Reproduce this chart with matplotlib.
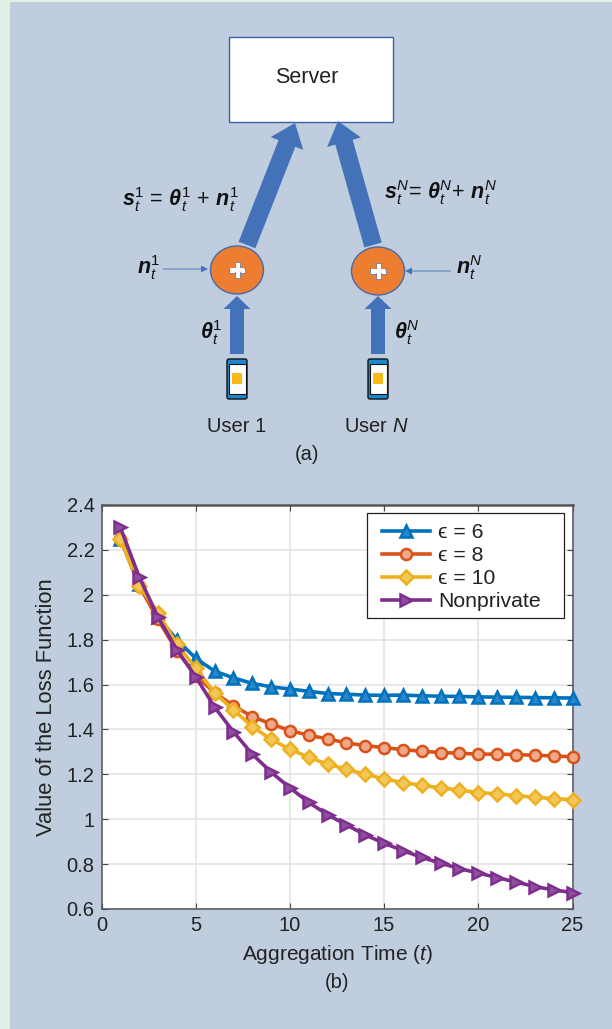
import matplotlib
matplotlib.use('Agg')
import matplotlib.pyplot as plt
from matplotlib.patches import Rectangle, Ellipse, FancyArrow, FancyBboxPatch

plt.rcParams['font.family'] = ['Liberation Sans', 'DejaVu Sans']
plt.rcParams['mathtext.fontset'] = 'custom'
plt.rcParams['mathtext.rm'] = 'Liberation Sans'
plt.rcParams['mathtext.it'] = 'Liberation Sans:italic'
plt.rcParams['mathtext.bf'] = 'Liberation Sans:bold'
plt.rcParams['mathtext.bfit'] = 'Liberation Sans:italic:bold'

# values
t = list(range(1, 26))
eps6 = [2.25, 2.05, 1.90, 1.80, 1.717, 1.66, 1.63, 1.605, 1.59, 1.58, 1.57, 1.56, 1.557,
        1.553, 1.552, 1.553, 1.55, 1.548, 1.547, 1.545, 1.544, 1.543, 1.542, 1.541, 1.54]
eps8 = [2.25, 2.04, 1.89, 1.75, 1.64, 1.564, 1.506, 1.457, 1.425, 1.395, 1.374, 1.358, 1.34,
        1.328, 1.319, 1.31, 1.303, 1.297, 1.294, 1.29, 1.29, 1.288, 1.285, 1.282, 1.278]
eps10 = [2.25, 2.04, 1.92, 1.78, 1.673, 1.564, 1.487, 1.413, 1.356, 1.312, 1.276, 1.245, 1.223,
         1.20, 1.18, 1.163, 1.151, 1.14, 1.13, 1.119, 1.113, 1.105, 1.098, 1.092, 1.087]
nonprivate = [2.30, 2.08, 1.90, 1.755, 1.635, 1.50, 1.39, 1.29, 1.21, 1.14, 1.075, 1.02, 0.975,
              0.93, 0.893, 0.86, 0.83, 0.804, 0.78, 0.76, 0.74, 0.72, 0.70, 0.685, 0.673]
labels = ['\u03f5 = 6', '\u03f5 = 8', '\u03f5 = 10', 'Nonprivate']
x_ticks = [0, 5, 10, 15, 20, 25]
y_ticks = [0.6, 0.8, 1, 1.2, 1.4, 1.6, 1.8, 2, 2.2, 2.4]
y_tick_labels = ['0.6', '0.8', '1', '1.2', '1.4', '1.6', '1.8', '2', '2.2', '2.4']

W, H = 612, 1029
PANEL = '#bfcddf'
BLUE = '#4472b8'
ORANGE = '#ed7d31'
INK = '#222222'

fig = plt.figure(figsize=(W / 100, H / 100), dpi=100, facecolor='#e2f1e6')

# overlay in pixel coordinates for the panel and the diagram
bg = fig.add_axes([0, 0, 1, 1], zorder=0)
bg.set_xlim(0, W)
bg.set_ylim(H, 0)
bg.axis('off')
bg.add_patch(Rectangle((10, 1.5), W - 10, H - 1.5, fc=PANEL, ec='none'))

bg.add_patch(Rectangle((228.5, 36.5), 164, 85.5, fc='white', ec='#3f5f9f', lw=1))
bg.text(307, 77.5, 'Server', ha='center', va='center', fontsize=15.5, color=INK)


def arrow(x0, y0, x1, y1, shaft, head, head_len):
    bg.add_patch(FancyArrow(x0, y0, x1 - x0, y1 - y0, width=shaft, head_width=head,
                            head_length=head_len, length_includes_head=True,
                            fc=BLUE, ec='none'))


arrow(247, 245, 295, 123, 18, 35, 22)
arrow(373, 245, 338, 121, 18, 35, 22)
arrow(237, 354, 237, 296, 14, 27, 13)
arrow(378, 354, 378, 296, 14, 27, 13)
arrow(163, 269, 208, 269, 0.9, 7, 7)
arrow(451, 271, 405, 271, 0.9, 7, 7)

for cx, cy in [(237, 270), (378, 271)]:
    bg.add_patch(Ellipse((cx, cy), 53, 48, fc=ORANGE, ec='#4a6aa8', lw=1))
    bg.add_patch(Rectangle((cx - 8, cy - 2.5), 16, 5, fc='white', ec='#5a6fa0', lw=0.5))
    bg.add_patch(Rectangle((cx - 2.5, cy - 8), 5, 16, fc='white', ec='#5a6fa0', lw=0.5))
    bg.add_patch(Rectangle((cx - 7, cy - 1.8), 14, 3.6, fc='white', ec='none'))

for px in [227, 368]:
    bg.add_patch(FancyBboxPatch((px, 359), 20, 40, boxstyle='round,pad=0,rounding_size=2',
                                fc='#1a8ad0', ec='#111111', lw=1))
    bg.add_patch(Rectangle((px + 1.5, 364), 17, 30, fc='white', ec='#111111', lw=0.8))
    bg.add_patch(FancyBboxPatch((px + 5, 373), 10, 11, boxstyle='round,pad=0,rounding_size=1',
                                fc='#f9b91a', ec='none'))

MATH = dict(ha='center', va='center', fontsize=15.5, color='#111111')
bg.text(180, 200, r'$\mathbfit{s}_t^1\,=\,\mathbfit{\theta}_t^1\,+\,\mathbfit{n}_t^1$', **MATH)
bg.text(440, 193, r'$\mathbfit{s}_t^N\!=\,\mathbfit{\theta}_t^N\!+\,\mathbfit{n}_t^N$', **MATH)
bg.text(148, 268, r'$\mathbfit{n}_t^1$', **MATH)
bg.text(469, 268, r'$\mathbfit{n}_t^N$', **MATH)
bg.text(211, 333, r'$\mathbfit{\theta}_t^1$', **MATH)
bg.text(407, 333, r'$\mathbfit{\theta}_t^N$', **MATH)

bg.text(237, 427, 'User 1', ha='center', va='center', fontsize=14.5, color=INK)
bg.text(376, 427, 'User $N$', ha='center', va='center', fontsize=14.5, color=INK)
bg.text(307, 454, '(a)', ha='center', va='center', fontsize=14.5, color=INK)
bg.text(337, 983, '(b)', ha='center', va='center', fontsize=14.5, color=INK)

# line chart
ax = fig.add_axes([101.5 / W, 1 - 909 / H, (572.5 - 101.5) / W, (909 - 505) / H], zorder=1)
ax.set_xlim(0, 25)
ax.set_ylim(0.6, 2.4)

styles = [('#0072BD', '^', eps6, '#2a86c8'), ('#D95319', 'o', eps8, '#eda98a'),
          ('#EDB120', 'D', eps10, '#f2c658'), ('#7E2F8E', '>', nonprivate, '#8f4f9f')]
for (color, marker, values, fill), label in zip(styles, labels):
    ms = 7 if marker == 'D' else 8
    ax.plot(t, values, color=color, lw=2.6, marker=marker, ms=ms, mew=1.8,
            mfc=fill, mec=color, clip_on=False, label=label, zorder=3)

ax.set_xticks(x_ticks)
ax.set_yticks(y_ticks)
ax.set_yticklabels(y_tick_labels)
ax.grid(True, color='#e2e2e2', lw=1.1)
ax.set_axisbelow(True)
ax.tick_params(direction='in', top=True, right=True, length=4, width=0.8, color='#444444',
               labelsize=14.5, labelcolor=INK, pad=5)
for spine in ax.spines.values():
    spine.set_color('#555555')
    spine.set_linewidth(1.1)
ax.spines['top'].set_linewidth(1.8)

ax.set_xlabel('Aggregation Time ($t$)', fontsize=15, color=INK)
ax.set_ylabel('Value of the Loss Function', fontsize=15.8, color=INK)
ax.xaxis.set_label_coords(0.5, (909 - 943) / 404)
ax.yaxis.set_label_coords((57 - 101.5) / 471, 0.5)

# legend frame is its own box so the padding can differ per side
ax.add_patch(Rectangle((367 / W, 1 - 618 / H), 197 / W, 105 / H, transform=fig.transFigure,
                       fc='white', ec=INK, lw=0.9, zorder=4, clip_on=False))
leg = ax.legend(loc='upper left', bbox_to_anchor=((382 - 101.5) / 471, 1 - 18.5 / 404),
                borderaxespad=0, borderpad=0, fontsize=15.3, frameon=False,
                handlelength=2.27, labelspacing=0.18, handletextpad=0.38)
leg.set_zorder(5)
for txt in leg.get_texts():
    txt.set_color(INK)

fig.savefig('out.png', dpi=100, facecolor=fig.get_facecolor())
